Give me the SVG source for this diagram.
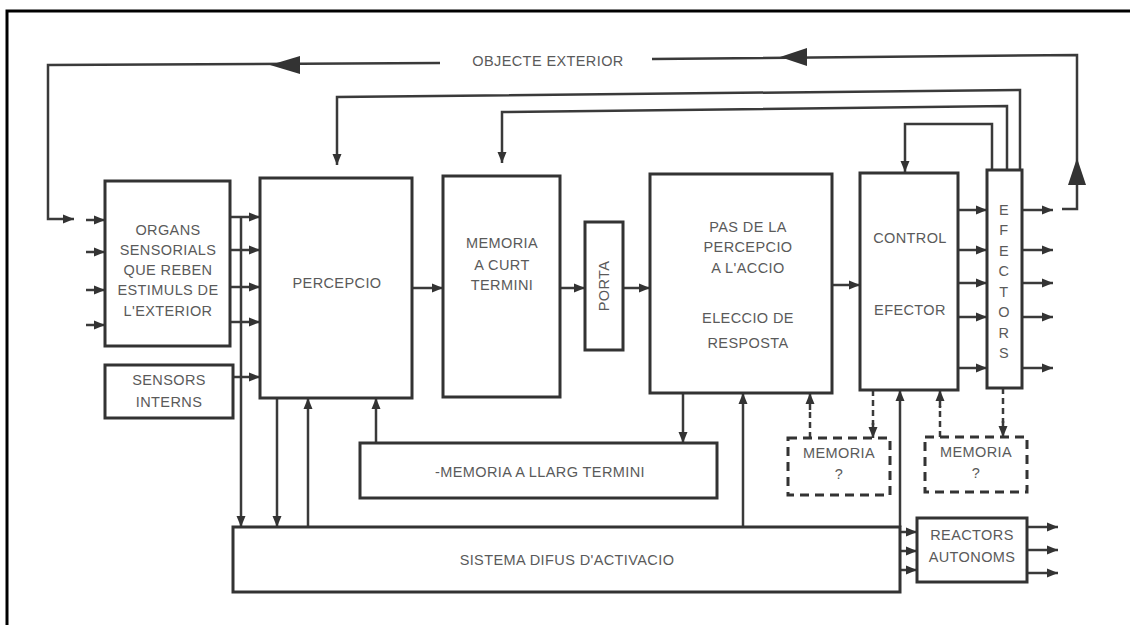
<svg xmlns="http://www.w3.org/2000/svg" width="1130" height="625" viewBox="0 0 1130 625">
<style>
.box{fill:none;stroke:#333;stroke-width:3}
.dbox{fill:none;stroke:#333;stroke-width:3;stroke-dasharray:9 6}
.ln{fill:none;stroke:#3a3a3a;stroke-width:2.5}
.dl{fill:none;stroke:#3a3a3a;stroke-width:2.5;stroke-dasharray:6 4}
.a{marker-end:url(#ah)}
.big{fill:#333}
text{font-family:"Liberation Sans",Arial,sans-serif;font-size:14.5px;fill:#5a5a5a;text-anchor:middle;letter-spacing:0.4px}
</style>
<defs>
<marker id="ah" markerUnits="userSpaceOnUse" markerWidth="12" markerHeight="10" refX="11" refY="5" orient="auto">
<path d="M0,0.5 L11,5 L0,9.5 z" fill="#333"/>
</marker>
</defs>
<rect width="1130" height="625" fill="#fff"/>
<path d="M7,625 V11 H1130" fill="none" stroke="#000" stroke-width="3"/>

<g id="connectors">
<!-- objecte exterior loop -->
<path class="ln" d="M1062,209 H1077 V55 L652,59"/>
<path class="ln a" d="M440,63 L48,65 V219 H74"/>
<polygon class="big" points="780,57 807,48 807,66"/>
<polygon class="big" points="270,65 300,56 300,74"/>
<polygon class="big" points="1077,158 1068,185 1086,185"/>
<!-- feedback lines from efectors -->
<path class="ln a" d="M1020,170 V90 L337,97 V165"/>
<path class="ln a" d="M1007,170 V106 L502,112 V163"/>
<path class="ln a" d="M992,170 V124 H905 V172"/>
<!-- inputs to organs -->
<path class="ln a" d="M86,220 H105"/>
<path class="ln a" d="M86,252 H105"/>
<path class="ln a" d="M86,290 H105"/>
<path class="ln a" d="M86,325 H105"/>
<!-- organs to percepcio -->
<path class="ln a" d="M230,217 H260"/>
<path class="ln a" d="M230,250 H260"/>
<path class="ln a" d="M230,287 H260"/>
<path class="ln a" d="M230,322 H260"/>
<path class="ln a" d="M241,217 V527"/>
<path class="ln a" d="M233,377 H260"/>
<!-- percepcio chain -->
<path class="ln a" d="M412,288 H443"/>
<path class="ln a" d="M560,288 H585"/>
<path class="ln a" d="M623,288 H650"/>
<path class="ln a" d="M832,285 H860"/>
<!-- control to efectors -->
<path class="ln a" d="M958,210 H987"/>
<path class="ln a" d="M958,250 H987"/>
<path class="ln a" d="M958,283 H987"/>
<path class="ln a" d="M958,317 H987"/>
<path class="ln a" d="M958,368 H987"/>
<!-- efectors outputs -->
<path class="ln a" d="M1022,210 H1053"/>
<path class="ln a" d="M1022,250 H1053"/>
<path class="ln a" d="M1022,283 H1053"/>
<path class="ln a" d="M1022,317 H1053"/>
<path class="ln a" d="M1022,368 H1053"/>
<!-- percepcio bottom -->
<path class="ln a" d="M277,398 V527"/>
<path class="ln a" d="M308,527 V398"/>
<path class="ln a" d="M376,443 V398"/>
<!-- pas bottom -->
<path class="ln a" d="M683,393 V443"/>
<path class="ln a" d="M743,527 V393"/>
<path class="dl" d="M810,438 V408"/>
<path class="ln a" d="M810,410 V393"/>
<path class="dl" d="M873,390 V425"/>
<path class="ln a" d="M873,423 V438"/>
<path class="ln a" d="M900,527 V390"/>
<path class="dl" d="M940,437 V406"/>
<path class="ln a" d="M940,408 V390"/>
<path class="dl" d="M1003,388 V423"/>
<path class="ln a" d="M1003,421 V437"/>
<!-- sistema to reactors -->
<path class="ln a" d="M900,532 H917"/>
<path class="ln a" d="M900,551 H917"/>
<path class="ln a" d="M900,570 H917"/>
<path class="ln a" d="M1027,527 H1058"/>
<path class="ln a" d="M1027,550 H1058"/>
<path class="ln a" d="M1027,573 H1058"/>
</g>

<g id="objecte-exterior"><text x="548" y="66">OBJECTE EXTERIOR</text></g>

<g id="organs">
<rect class="box" x="105" y="181" width="125" height="165"/>
<text x="168" y="235">ORGANS</text>
<text x="168" y="255">SENSORIALS</text>
<text x="168" y="275">QUE REBEN</text>
<text x="168" y="295">ESTIMULS DE</text>
<text x="168" y="316">L'EXTERIOR</text>
</g>

<g id="sensors">
<rect class="box" x="105" y="365" width="128" height="53"/>
<text x="169" y="385">SENSORS</text>
<text x="169" y="407">INTERNS</text>
</g>

<g id="percepcio">
<rect class="box" x="260" y="178" width="152" height="220"/>
<text x="337" y="288">PERCEPCIO</text>
</g>

<g id="memoria-curt">
<rect class="box" x="443" y="176" width="117" height="221"/>
<text x="502" y="248">MEMORIA</text>
<text x="502" y="270">A CURT</text>
<text x="502" y="290">TERMINI</text>
</g>

<g id="porta">
<rect class="box" x="585" y="222" width="38" height="128"/>
<text transform="translate(609,286) rotate(-90)">PORTA</text>
</g>

<g id="pas">
<rect class="box" x="650" y="174" width="182" height="219"/>
<text x="748" y="232">PAS DE LA</text>
<text x="748" y="252">PERCEPCIO</text>
<text x="748" y="273">A L'ACCIO</text>
<text x="748" y="323">ELECCIO DE</text>
<text x="748" y="348">RESPOSTA</text>
</g>

<g id="control">
<rect class="box" x="860" y="173" width="98" height="217"/>
<text x="910" y="243">CONTROL</text>
<text x="910" y="315">EFECTOR</text>
</g>

<g id="efectors">
<rect class="box" x="987" y="170" width="35" height="218"/>
<text x="1004" y="215">E</text>
<text x="1004" y="235">F</text>
<text x="1004" y="256">E</text>
<text x="1004" y="276">C</text>
<text x="1004" y="297">T</text>
<text x="1004" y="317">O</text>
<text x="1004" y="338">R</text>
<text x="1004" y="358">S</text>
</g>

<g id="memoria-llarg">
<rect class="box" x="360" y="443" width="357" height="55"/>
<text x="540" y="477">-MEMORIA A LLARG TERMINI</text>
</g>

<g id="memoria-1">
<rect class="dbox" x="788" y="438" width="102" height="57"/>
<text x="839" y="458">MEMORIA</text>
<text x="839" y="479">?</text>
</g>

<g id="memoria-2">
<rect class="dbox" x="925" y="437" width="102" height="55"/>
<text x="976" y="457">MEMORIA</text>
<text x="976" y="478">?</text>
</g>

<g id="sistema">
<rect class="box" x="233" y="527" width="667" height="65"/>
<text x="567" y="565">SISTEMA DIFUS D'ACTIVACIO</text>
</g>

<g id="reactors">
<rect class="box" x="917" y="518" width="110" height="64"/>
<text x="972" y="540">REACTORS</text>
<text x="972" y="562">AUTONOMS</text>
</g>
</svg>
